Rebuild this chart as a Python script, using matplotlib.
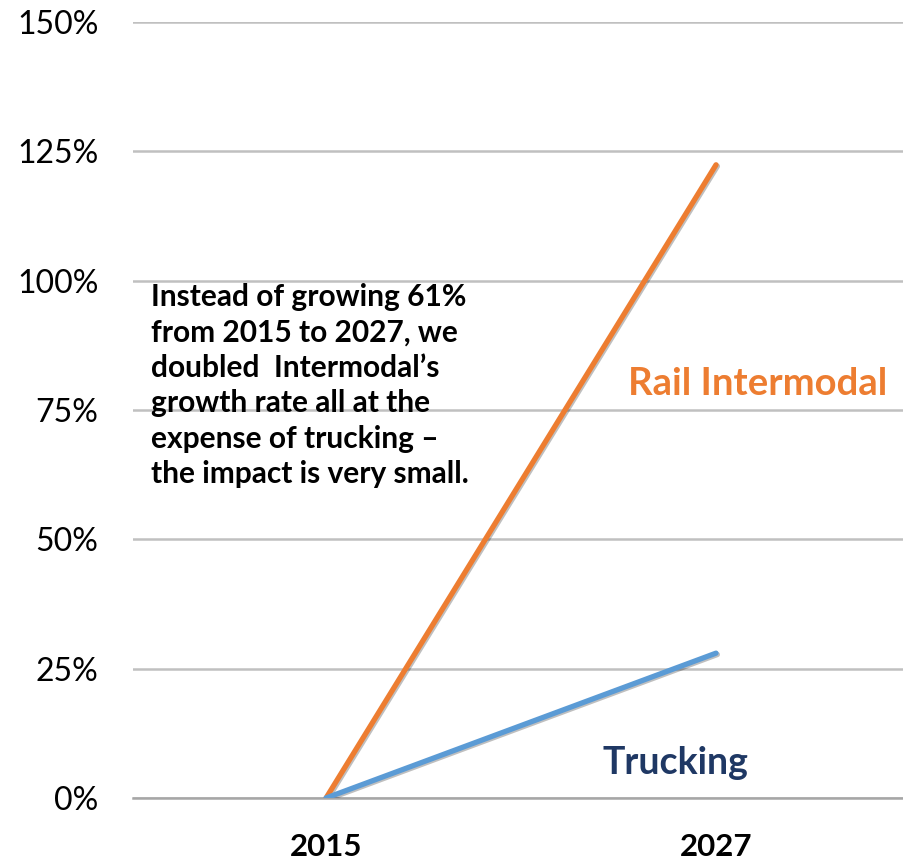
import matplotlib
matplotlib.use("Agg")
import matplotlib.pyplot as plt
import matplotlib.patheffects as pe

plt.rcParams['font.family'] = ['Lato', 'DejaVu Sans']

years = ['2015', '2027']
rail = [0, 122.4]
trucking = [0, 28.0]
yticks = [0, 25, 50, 75, 100, 125, 150]
note = ("Instead of growing 61%\nfrom 2015 to 2027, we\ndoubled  Intermodal\u2019s\n"
        "growth rate all at the\nexpense of trucking \u2013\nthe impact is very small.")

fig = plt.figure(figsize=(9.04, 8.61), dpi=100)
ax = fig.add_axes([133/904, 1 - 798/861, 1 - 133/904, (798 - 22)/861])

x = [0, 1]
shadow = [pe.SimpleLineShadow(offset=(1, -1), alpha=0.25), pe.Normal()]
ax.plot(x, rail, color='#ED7D31', lw=3.8, solid_capstyle='round', path_effects=shadow, zorder=3)
ax.plot(x, trucking, color='#5B9BD5', lw=3.8, solid_capstyle='round', path_effects=shadow, zorder=3)

ax.set_ylim(0, 150)
ax.set_xlim(-0.495, 1.482)
ax.set_yticks(yticks)
ax.set_yticklabels([f"{v}%" for v in yticks], fontsize=23)
ax.set_xticks(x)
ax.set_xticklabels(years, fontsize=22.5, fontweight='bold')
ax.tick_params(axis='y', length=0, pad=25)
ax.tick_params(axis='x', length=0, pad=25)
ax.grid(axis='y', color='#C0C0C0', lw=1.8)
ax.set_axisbelow(True)
for s in ['top', 'right', 'left']:
    ax.spines[s].set_visible(False)
ax.spines['bottom'].set_color('#A6A6A6')
ax.spines['bottom'].set_linewidth(1.8)

ax.text(-0.45, 99.5, note, fontsize=21.5, fontweight='bold', va='top', ha='left',
        linespacing=1.32)
ax.text(0.773, 80, "Rail Intermodal", color='#ED7D31', fontsize=27.5, fontweight='bold',
        va='center', ha='left')
ax.text(0.71, 6.8, "Trucking", color='#1F3864', fontsize=27, fontweight='bold',
        va='center', ha='left')

fig.savefig("out.png", dpi=100)
